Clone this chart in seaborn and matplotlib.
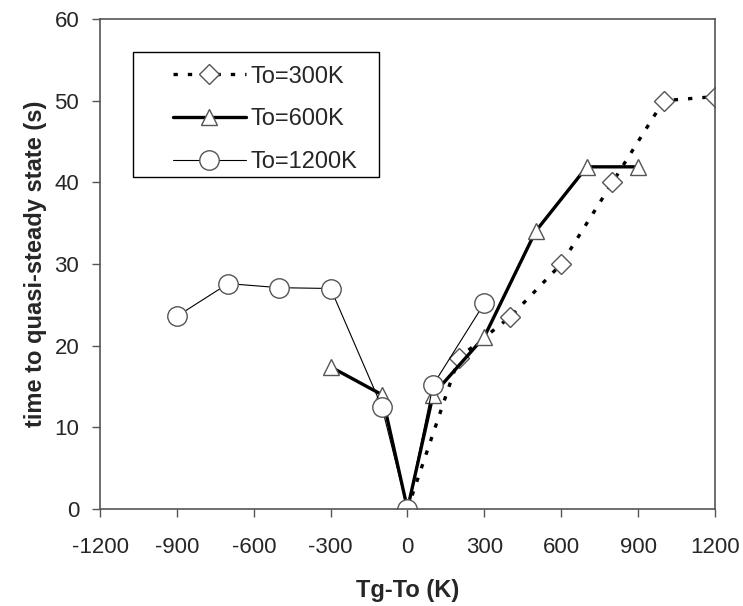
import pandas as pd
import matplotlib
matplotlib.use("Agg")
import matplotlib.pyplot as plt
from matplotlib.patches import Rectangle
import seaborn as sns

# temperature difference Tg-To (K) and time to quasi-steady state (s)
x_300 = [0, 200, 400, 600, 800, 1000, 1200]
y_300 = [0, 18.5, 23.5, 30.0, 40.0, 50.0, 50.5]

x_600 = [-300, -100, 0, 100, 300, 500, 700, 900]
y_600 = [17.4, 14.0, 0, 14.0, 21.1, 34.0, 41.9, 41.9]

x_1200 = [-900, -700, -500, -300, -100, 0, 100, 300]
y_1200 = [23.6, 27.6, 27.1, 27.0, 12.5, 0, 15.2, 25.2]

labels = ["To=300K", "To=600K", "To=1200K"]
x_ticks = [-1200, -900, -600, -300, 0, 300, 600, 900, 1200]
y_ticks = [0, 10, 20, 30, 40, 50, 60]

sns.set_style("white")
plt.rcParams['font.family'] = ['Liberation Sans', 'DejaVu Sans']
plt.rcParams['axes.unicode_minus'] = False

fig = plt.figure(figsize=(7.43, 6.06), dpi=100)
ax = fig.add_axes([0.1346, 0.1601, 0.8277, 0.8085])

edge = "#555555"
styles = [
    dict(marker="D", markersize=10.5, linewidth=2.4, linestyle=(0, (1.3, 3.0)), color="black"),
    dict(marker="^", markersize=11, linewidth=2.4, linestyle="-", color="black"),
    dict(marker="o", markersize=14, linewidth=0.8, linestyle="-", color="black"),
]
series = [(x_300, y_300), (x_600, y_600), (x_1200, y_1200)]

for (xs, ys), lab, st in zip(series, labels, styles):
    df = pd.DataFrame({"x": xs, "y": ys})
    sns.lineplot(data=df, x="x", y="y", sort=False, ax=ax, label=lab,
                 markerfacecolor="white", markeredgecolor=edge, markeredgewidth=1.0,
                 **st)

ax.set_xlim(-1200, 1200)
ax.set_ylim(0, 60)
ax.set_xticks(x_ticks)
ax.set_yticks(y_ticks)
ax.tick_params(axis="both", direction="out", length=6, width=1, color=edge,
               labelsize=16, bottom=True, left=True)
ax.tick_params(axis="x", pad=14)
ax.tick_params(axis="y", pad=9)
for s in ax.spines.values():
    s.set_color(edge)
    s.set_linewidth(1.2)

ax.set_xlabel("Tg-To (K)", fontsize=17, fontweight="bold", labelpad=15)
ax.set_ylabel("time to quasi-steady state (s)", fontsize=17, fontweight="bold", labelpad=5)

# legend box drawn separately so the padding matches the original
ax.add_patch(Rectangle((0.0537, 0.6776), 0.40, 0.255, transform=ax.transAxes,
                       facecolor="white", edgecolor="black", linewidth=1.0, zorder=4))
leg = ax.legend(loc="upper left", bbox_to_anchor=(0.118, 0.905), borderaxespad=0,
                fontsize=17, frameon=False, handlelength=3.1, borderpad=0,
                labelspacing=0.88, handletextpad=0.2)
leg.set_zorder(5)

plt.savefig("out.png", dpi=100)
